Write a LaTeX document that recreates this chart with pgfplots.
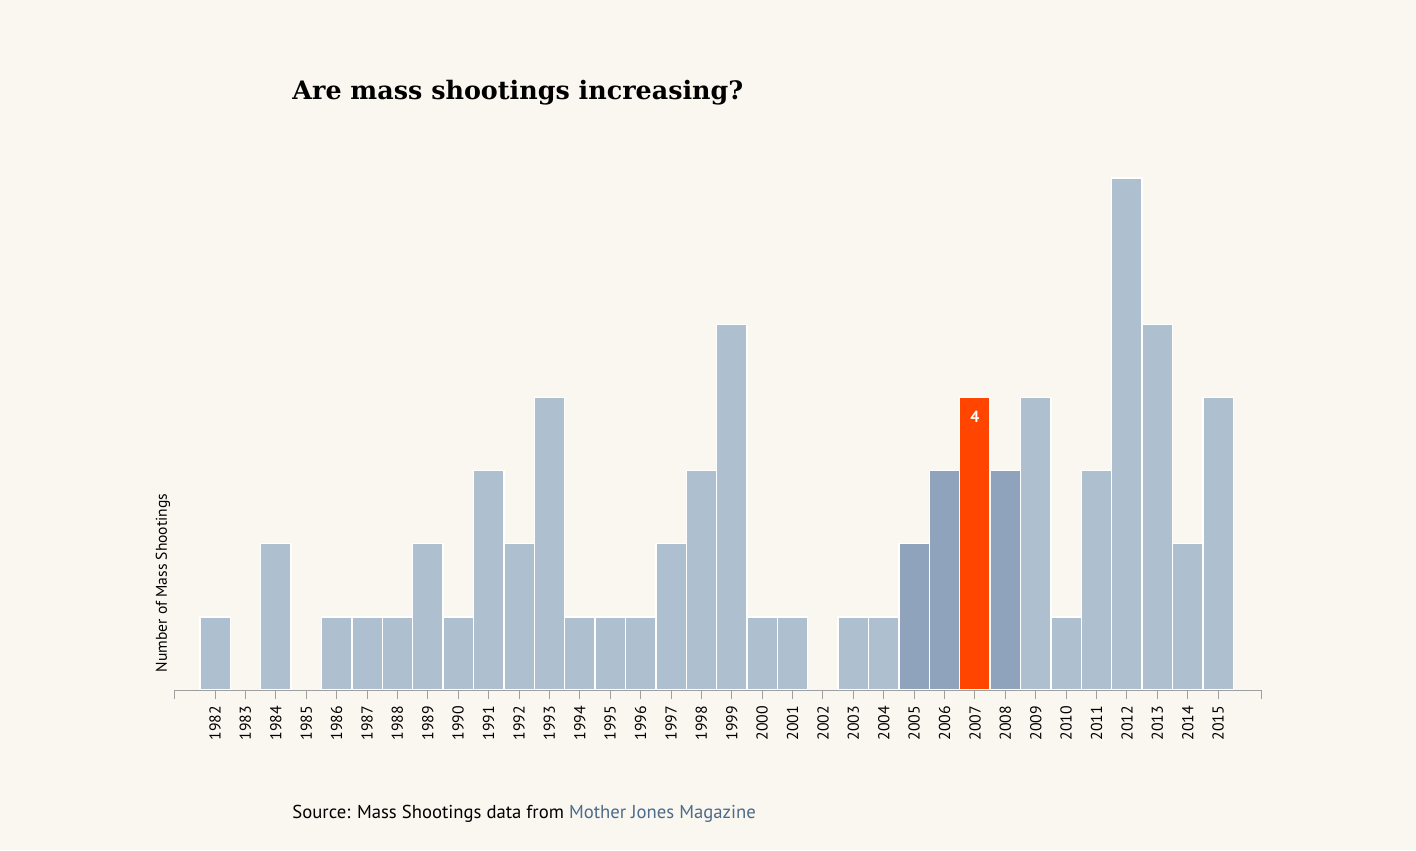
\documentclass[border=0pt]{standalone}
\usepackage{pgfplots}
\pgfplotsset{compat=1.18}
\usepackage{fontspec}
\setmainfont{PT Sans}
\newfontfamily\titlefont{DejaVu Serif}
\definecolor{bgc}{HTML}{F9F7F0}
\definecolor{lightbar}{HTML}{AEBFD0}
\definecolor{darkbar}{HTML}{8FA4BC}
\definecolor{hibar}{HTML}{FF4500}
\definecolor{linkc}{HTML}{4D6B8A}
\begin{document}
\begin{tikzpicture}
\fill[bgc] (0,0) rectangle (708pt,425pt);
\node[anchor=base west, inner sep=0pt, font=\titlefont\bfseries\fontsize{12.7}{14}\selectfont] at (146pt,375pt) {Are mass shootings increasing?};
\node[anchor=base west, inner sep=0pt, font=\fontsize{9.35}{11}\selectfont] at (146pt,16pt) {Source: Mass Shootings data from \textcolor{linkc}{Mother Jones Magazine}};
\node[rotate=90, inner sep=0pt, font=\fontsize{7.8}{9}\selectfont] at (81.5pt,133.5pt) {Number of Mass Shootings};
\begin{axis}[
  at={(87pt,80pt)}, anchor=south west,
  scale only axis, width=543.5pt, height=256pt,
  xmin=1980.65, xmax=2016.41, ymin=0, ymax=7,
  clip=false, axis on top,
  axis x line*=bottom, axis y line=none,
  axis line style={-, color=gray!75, line width=0.5pt},
  xtick={1982,1983,...,2015},
  extra x ticks={1980.65,2016.41}, extra x tick labels={},
  extra x tick style={tick style={gray!75}},
  tick align=outside, major tick length=4.5pt,
  x tick style={color=gray!75, line width=0.5pt},
  xticklabel style={rotate=90, anchor=east, font=\fontsize{7.9}{9}\selectfont},
  /pgf/number format/.cd, 1000 sep={}, assume math mode=true,
]
\addplot[ybar, bar shift=0pt, bar width=1, fill=lightbar, draw=white, line width=0.7pt] coordinates {
(1982,1) (1984,2) (1986,1) (1987,1) (1988,1) (1989,2) (1990,1) (1991,3) (1992,2) (1993,4)
(1994,1) (1995,1) (1996,1) (1997,2) (1998,3) (1999,5) (2000,1) (2001,1) (2003,1) (2004,1)
(2009,4) (2010,1) (2011,3) (2012,7) (2013,5) (2014,2) (2015,4)};
\addplot[ybar, bar shift=0pt, bar width=1, fill=darkbar, draw=white, line width=0.7pt] coordinates {
(2005,2) (2006,3) (2008,3)};
\addplot[ybar, bar shift=0pt, bar width=1, fill=hibar, draw=white, line width=0.7pt,
  nodes near coords, every node near coord/.append style={anchor=north, yshift=-3pt, text=white, font=\bfseries\fontsize{8}{9}\selectfont}] coordinates {
(2007,4)};
\end{axis}
\end{tikzpicture}
\end{document}
